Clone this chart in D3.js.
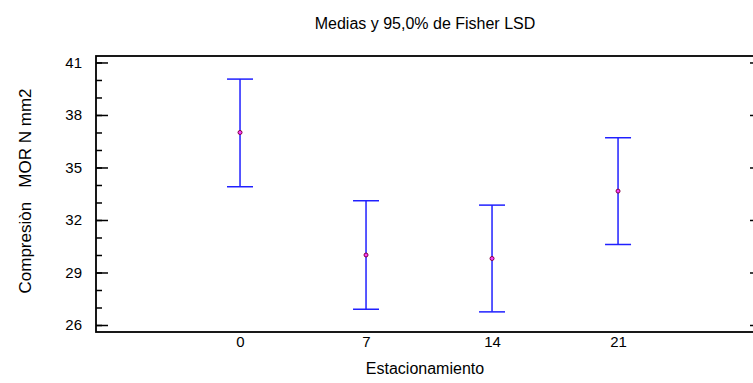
<!DOCTYPE html>
<html>
<head>
<meta charset="utf-8">
<script src="https://cdn.jsdelivr.net/npm/d3@7"></script>
<style>
  body { margin: 0; background: #fff; }
  #chart-container { width: 753px; height: 383px; }
  text { font-family: Arial, "Liberation Sans", sans-serif; fill: #000; }
</style>
</head>
<body>
<div id="chart-container"></div>
<script>
// data
const categories = ["0", "7", "14", "21"];
const means = [37.0, 30.0, 29.8, 33.65];
const lower = [33.9, 26.9, 26.75, 30.6];
const upper = [40.05, 33.1, 32.85, 36.7];
const yTicks = [26, 29, 32, 35, 38, 41];
const yMinorTicks = d3.range(26, 42, 1);

function renderChart() {
    d3.select("#chart-container svg").remove();

    const W = 753, H = 383;
    const left = 96, right = 754, top = 56, bottom = 332;

    const svg = d3.select("#chart-container")
        .append("svg")
        .attr("width", W)
        .attr("height", H);

    // x positions by category index
    const x = d3.scaleLinear()
        .domain([-1.143, 4.079])
        .range([left, right]);

    const y = d3.scaleLinear()
        .domain([25.6, 41.37])
        .range([bottom, top]);

    // title
    svg.append("text")
        .attr("x", (left + right) / 2)
        .attr("y", 29)
        .attr("text-anchor", "middle")
        .style("font-size", "16px")
        .text("Medias y 95,0% de Fisher LSD");

    // minor ticks on the left
    svg.append("g")
        .attr("transform", `translate(${left},0)`)
        .call(d3.axisLeft(y).tickValues(yMinorTicks).tickSizeInner(-6).tickSizeOuter(0).tickFormat(""))
        .call(g => g.select(".domain").remove())
        .call(g => g.selectAll("line").attr("stroke", "#000").attr("stroke-width", 1.5));

    // major ticks + labels on the left
    svg.append("g")
        .attr("transform", `translate(${left},0)`)
        .call(d3.axisLeft(y).tickValues(yTicks).tickSizeInner(-12).tickSizeOuter(0).tickPadding(14))
        .call(g => g.select(".domain").remove())
        .call(g => g.selectAll("line").attr("stroke", "#000").attr("stroke-width", 1.5))
        .call(g => g.selectAll("text").style("font-size", "15px").attr("fill", "#000"));

    // small ticks on the right side
    svg.append("g")
        .attr("transform", `translate(${right},0)`)
        .call(d3.axisRight(y).tickValues(yTicks).tickSizeInner(-4).tickSizeOuter(0).tickFormat(""))
        .call(g => g.select(".domain").remove())
        .call(g => g.selectAll("line").attr("stroke", "#000").attr("stroke-width", 1.5));

    // x axis labels only
    svg.append("g")
        .attr("transform", `translate(0,${bottom})`)
        .call(d3.axisBottom(x).tickValues(d3.range(categories.length)).tickSize(0).tickPadding(4)
            .tickFormat(i => categories[i]))
        .call(g => g.select(".domain").remove())
        .call(g => g.selectAll("text").style("font-size", "15px").attr("fill", "#000"));

    // frame
    svg.append("rect")
        .attr("x", left)
        .attr("y", top)
        .attr("width", right - left)
        .attr("height", bottom - top)
        .attr("fill", "none")
        .attr("stroke", "#000")
        .attr("stroke-width", 1.8);

    // axis labels
    svg.append("text")
        .attr("x", (left + right) / 2)
        .attr("y", 374)
        .attr("text-anchor", "middle")
        .style("font-size", "16px")
        .text("Estacionamiento");

    svg.append("text")
        .attr("transform", `translate(31,191) rotate(-90)`)
        .attr("text-anchor", "middle")
        .style("font-size", "17px")
        .style("white-space", "pre")
        .text("Compresiòn   MOR N mm2");

    // error bars
    const capHalf = 13;
    const bars = svg.append("g")
        .attr("stroke", "#2020ff")
        .attr("stroke-width", 1.5);

    categories.forEach((c, i) => {
        const cx = x(i);
        bars.append("line")
            .attr("x1", cx).attr("x2", cx)
            .attr("y1", y(lower[i])).attr("y2", y(upper[i]));
        bars.append("line")
            .attr("x1", cx - capHalf).attr("x2", cx + capHalf)
            .attr("y1", y(upper[i])).attr("y2", y(upper[i]));
        bars.append("line")
            .attr("x1", cx - capHalf).attr("x2", cx + capHalf)
            .attr("y1", y(lower[i])).attr("y2", y(lower[i]));
    });

    // mean points
    svg.append("g")
        .selectAll("circle")
        .data(means)
        .join("circle")
        .attr("cx", (d, i) => x(i))
        .attr("cy", d => y(d))
        .attr("r", 2)
        .attr("fill", "#ff40ff")
        .attr("stroke", "#800040")
        .attr("stroke-width", 1);
}

renderChart();
</script>
</body>
</html>
